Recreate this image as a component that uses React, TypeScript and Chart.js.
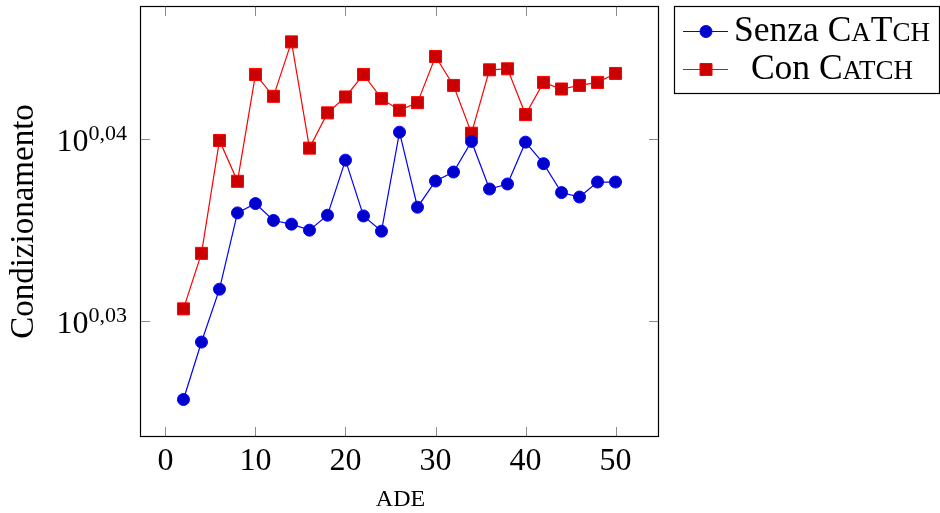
import React, { useEffect, useRef } from "react";
import { Chart, registerables } from "chart.js";

Chart.register(...registerables);

const ade = [2, 4, 6, 8, 10, 12, 14, 16, 18, 20, 22, 24, 26, 28, 30, 32, 34, 36, 38, 40, 42, 44, 46, 48, 50];
const senzaCatch = [
  1.06101, 1.06874, 1.0759, 1.08632, 1.0876, 1.08528, 1.08477, 1.08395, 1.086, 1.09358, 1.0859, 1.08381, 1.09745,
  1.0871, 1.0907, 1.09194, 1.09616, 1.0896, 1.09029, 1.09607, 1.09309, 1.08911, 1.0885, 1.09056, 1.09056,
];
const conCatch = [
  1.07323, 1.08078, 1.0963, 1.09066, 1.10548, 1.10243, 1.11004, 1.09524, 1.10013, 1.10234, 1.10548, 1.10211, 1.10049,
  1.10155, 1.10799, 1.10395, 1.09731, 1.10613, 1.10627, 1.09989, 1.10437, 1.10345, 1.10395, 1.10437, 1.10562,
];
const xTicks = [0, 10, 20, 30, 40, 50];
const yTickExponents = [0.03, 0.04];
const yTickLabels = ["0,03", "0,04"];

const FONT = "'Liberation Serif', 'Times New Roman', serif";

type Run = { text: string; size: number };

function drawRuns(ctx: CanvasRenderingContext2D, runs: Run[], x: number, y: number, align: "left" | "center" | "right") {
  let total = 0;
  const widths = runs.map((r) => {
    ctx.font = `${r.size}px ${FONT}`;
    const w = ctx.measureText(r.text).width;
    total += w;
    return w;
  });
  let cx = x;
  if (align === "center") cx = x - total / 2;
  if (align === "right") cx = x - total;
  ctx.textAlign = "left";
  ctx.textBaseline = "alphabetic";
  runs.forEach((r, i) => {
    ctx.font = `${r.size}px ${FONT}`;
    ctx.fillText(r.text, cx, y);
    cx += widths[i];
  });
}

const decorPlugin = {
  id: "decor",
  afterDatasetsDraw(chart: any) {
    const ctx: CanvasRenderingContext2D = chart.ctx;
    const { left, right, top, bottom } = chart.chartArea;
    const xs = chart.scales.x;
    const ys = chart.scales.y;
    ctx.save();
    // ticks
    ctx.strokeStyle = "#8c8c8c";
    ctx.lineWidth = 1;
    const tl = 10;
    xTicks.forEach((t) => {
      const px = Math.round(xs.getPixelForValue(t)) + 0.5;
      ctx.beginPath();
      ctx.moveTo(px, bottom);
      ctx.lineTo(px, bottom - tl);
      ctx.moveTo(px, top);
      ctx.lineTo(px, top + tl);
      ctx.stroke();
    });
    yTickExponents.forEach((e) => {
      const py = Math.round(ys.getPixelForValue(Math.pow(10, e))) + 0.5;
      ctx.beginPath();
      ctx.moveTo(left, py);
      ctx.lineTo(left + tl, py);
      ctx.moveTo(right, py);
      ctx.lineTo(right - tl, py);
      ctx.stroke();
    });
    // border
    ctx.strokeStyle = "#000";
    ctx.lineWidth = 1.2;
    ctx.strokeRect(left + 0.5, top + 0.5, right - left - 1, bottom - top - 1);
    // x tick labels
    ctx.fillStyle = "#000";
    xTicks.forEach((t) => {
      const px = xs.getPixelForValue(t);
      drawRuns(ctx, [{ text: String(t), size: 32 }], px, bottom + 33, "center");
    });
    // y tick labels
    yTickExponents.forEach((e, i) => {
      const py = ys.getPixelForValue(Math.pow(10, e));
      ctx.font = `22px ${FONT}`;
      const supW = ctx.measureText(yTickLabels[i]).width;
      const rightEdge = 127;
      ctx.textAlign = "right";
      ctx.textBaseline = "alphabetic";
      ctx.fillText(yTickLabels[i], rightEdge, py + 1);
      ctx.font = `32px ${FONT}`;
      ctx.fillText("10", rightEdge - supW, py + 12);
    });
    // axis titles
    drawRuns(ctx, [{ text: "ADE", size: 24 }], (left + right) / 2 + 1, 506, "center");
    ctx.save();
    ctx.translate(33, (top + bottom) / 2);
    ctx.rotate(-Math.PI / 2);
    drawRuns(ctx, [{ text: "Condizionamento", size: 33 }], 0, 0, "center");
    ctx.restore();

    // legend
    const lx = 674, ly = 6, lw = 265, lh = 87;
    ctx.fillStyle = "#fff";
    ctx.fillRect(lx, ly, lw, lh);
    ctx.strokeStyle = "#000";
    ctx.lineWidth = 1.2;
    ctx.strokeRect(lx + 0.5, ly + 0.5, lw, lh);
    const rows = [
      { y: 31.5, line: "#0000ff", fill: "#0000cc", shape: "circle", runs: [
        { text: "Senza C", size: 35.5 }, { text: "A", size: 27 }, { text: "T", size: 35.5 }, { text: "CH", size: 27 },
      ] },
      { y: 69.5, line: "#ff0000", fill: "#cc0000", shape: "rect", runs: [
        { text: "Con C", size: 35.5 }, { text: "ATCH", size: 27 },
      ] },
    ];
    rows.forEach((r) => {
      ctx.strokeStyle = r.line;
      ctx.lineWidth = 1.2;
      ctx.beginPath();
      ctx.moveTo(683, r.y);
      ctx.lineTo(728, r.y);
      ctx.stroke();
      ctx.fillStyle = r.fill;
      ctx.beginPath();
      if (r.shape === "circle") {
        ctx.arc(706, r.y, 6, 0, Math.PI * 2);
      } else {
        ctx.rect(706 - 6, r.y - 6, 12, 12);
      }
      ctx.fill();
      ctx.lineWidth = 1;
      ctx.stroke();
      ctx.fillStyle = "#000";
      drawRuns(ctx, r.runs, 832, r.y + 9.5, "center");
    });
    ctx.restore();
  },
};

export default function App() {
  const ref = useRef<HTMLCanvasElement | null>(null);
  useEffect(() => {
    if (!ref.current) return;
    const chart = new Chart(ref.current, {
      type: "line",
      data: {
        datasets: [
          {
            label: "Senza CaTch",
            data: ade.map((x, i) => ({ x, y: senzaCatch[i] })),
            borderColor: "#0000ff",
            backgroundColor: "#0000cc",
            borderWidth: 1.2,
            pointStyle: "circle",
            pointRadius: 6,
            pointBackgroundColor: "#0000cc",
            pointBorderColor: "#0000ff",
            pointBorderWidth: 1,
            tension: 0,
          },
          {
            label: "Con CaTch",
            data: ade.map((x, i) => ({ x, y: conCatch[i] })),
            borderColor: "#ff0000",
            backgroundColor: "#cc0000",
            borderWidth: 1.2,
            pointStyle: "rect",
            pointRadius: 8.5,
            pointBackgroundColor: "#cc0000",
            pointBorderColor: "#ff0000",
            pointBorderWidth: 1,
            tension: 0,
          },
        ],
      },
      options: {
        responsive: false,
        animation: false,
        layout: { autoPadding: false, padding: { top: 6, right: 281, left: 0, bottom: 0 } },
        plugins: { legend: { display: false }, tooltip: { enabled: false } },
        scales: {
          x: {
            type: "linear",
            min: -2.83,
            max: 54.83,
            grid: { display: false },
            border: { display: false },
            ticks: { display: false },
            afterFit: (s: any) => { s.height = 76; },
          },
          y: {
            type: "logarithmic",
            min: 1.05622,
            max: 1.11508,
            grid: { display: false },
            border: { display: false },
            ticks: { display: false },
            afterFit: (s: any) => { s.width = 140; },
          },
        },
      },
      plugins: [decorPlugin],
    } as any);
    return () => chart.destroy();
  }, []);
  return (
    <div style={{ position: "absolute", left: 0, top: 0, width: 940, height: 513, background: "#fff" }}>
      <canvas ref={ref} width={940} height={513} style={{ display: "block" }} />
    </div>
  );
}
